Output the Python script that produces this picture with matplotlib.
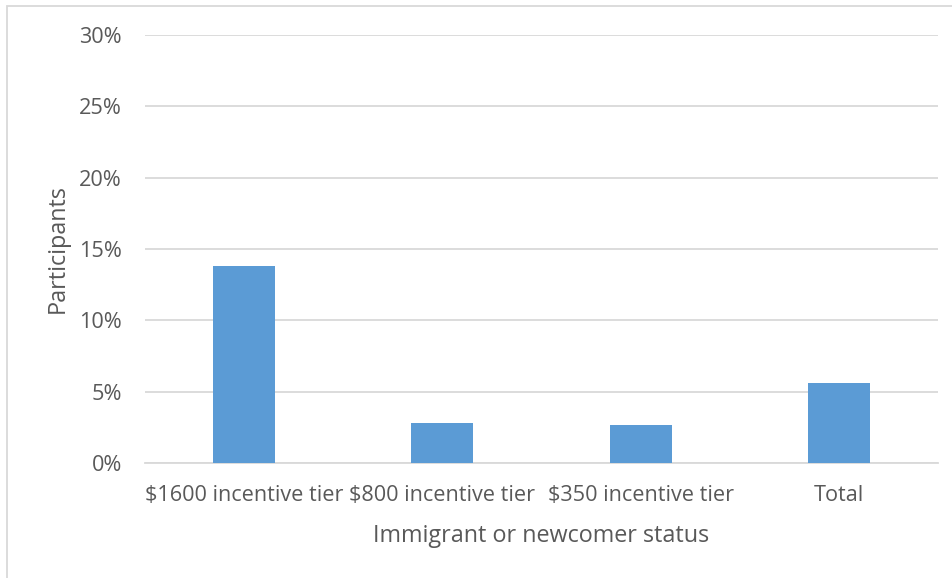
import matplotlib
matplotlib.use("Agg")
import matplotlib.pyplot as plt
from matplotlib.patches import Rectangle
from matplotlib.ticker import FuncFormatter, MultipleLocator

categories = ["$1600 incentive tier", "$800 incentive tier", "$350 incentive tier", "Total"]
values = [13.83, 2.82, 2.68, 5.61]

plt.rcParams['font.family'] = ['Open Sans', 'DejaVu Sans']
text_color = "#595959"
grid_color = "#d9d9d9"
bar_color = "#5b9bd5"

W, H = 952, 578
fig = plt.figure(figsize=(W / 100, H / 100), dpi=100)

# plot area in pixel coordinates
left, right, top, bottom = 145, 938, 35, 463
ax = fig.add_axes([left / W, 1 - bottom / H, (right - left) / W, (bottom - top) / H])

x = range(len(categories))
ax.bar(x, values, width=0.313, color=bar_color, zorder=3)
ax.set_xlim(-0.5, len(categories) - 0.5)
ax.set_ylim(0, 30)
ax.yaxis.set_major_locator(MultipleLocator(5))
ax.yaxis.set_major_formatter(FuncFormatter(lambda v, p: f"{v:.0f}%"))
ax.grid(axis="y", color=grid_color, linewidth=1.3, zorder=0)
for s in ["top", "right", "left"]:
    ax.spines[s].set_visible(False)
ax.spines["bottom"].set_color(grid_color)
ax.spines["bottom"].set_linewidth(1.3)
ax.tick_params(axis="both", length=0, colors=text_color, labelsize=15.6)
ax.tick_params(axis="y", pad=16.5)
ax.tick_params(axis="x", pad=15.5)
ax.set_xticks(list(x))
ax.set_xticklabels(categories)

ax.set_ylabel("Participants", color=text_color, fontsize=16.8, labelpad=6.5)
ax.set_xlabel("Immigrant or newcomer status", color=text_color, fontsize=16.8, labelpad=13)

# chart frame
fig.patches.append(Rectangle((7 / W, -0.1), 2, 1.1 - 6 / H,
                             transform=fig.transFigure, fill=False,
                             edgecolor=grid_color, linewidth=1.3))

fig.savefig("out.png", dpi=100)
